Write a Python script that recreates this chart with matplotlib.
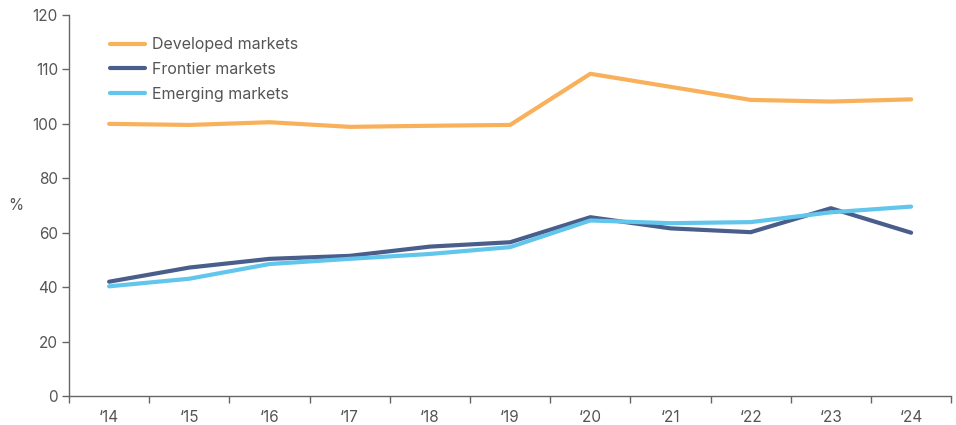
import matplotlib.pyplot as plt
import numpy as np

plt.rcParams['font.family'] = ['Inter', 'DejaVu Sans']

# Data
years = ['\u201814', '\u201815', '\u201816', '\u201817', '\u201818', '\u201819',
         '\u201820', '\u201821', '\u201822', '\u201823', '\u201824']
developed = [100.0, 99.6, 100.3, 98.9, 99.3, 99.6, 109.2, 106.8, 104.4, 104.1, 104.5]
frontier = [42.0, 47.2, 50.4, 51.5, 54.9, 56.5, 65.7, 61.6, 60.2, 69.0, 60.0]
emerging = [40.3, 43.1, 48.5, 50.4, 52.2, 54.7, 64.5, 63.5, 63.9, 67.5, 69.6]
yticks = [0, 20, 40, 60, 80, 100, 110, 120]

text_col = '#555555'
axis_col = '#666666'

# axis above 100 is stretched (100-120 takes the same room as 80-100 ... per label)
def fwd(y):
    y = np.asarray(y, dtype=float)
    return np.where(y <= 100, y, 100 + 2 * (y - 100))

def inv(v):
    v = np.asarray(v, dtype=float)
    return np.where(v <= 100, v, 100 + (v - 100) / 2)

fig = plt.figure(figsize=(9.56, 4.25), dpi=100)
ax = fig.add_axes([0.0722, 0.0682, 0.9228, 0.8965])
ax.set_yscale('function', functions=(fwd, inv))

x = np.arange(len(years))
ax.plot(x, developed, color='#F9B05A', lw=3, label='Developed markets', solid_capstyle='round')
ax.plot(x, frontier, color='#4A5E8C', lw=3, label='Frontier markets', solid_capstyle='round')
ax.plot(x, emerging, color='#62C6EC', lw=3, label='Emerging markets', solid_capstyle='round')

ax.set_xlim(-0.5, len(years) - 0.5)
ax.set_ylim(0, 120)
ax.set_yticks(yticks)
ax.set_yticklabels([str(t) for t in yticks])

# ticks on band edges, labels in the middle
ax.set_xticks(np.arange(-0.5, len(years), 1.0))
ax.set_xticklabels([])
ax.set_xticks(x, minor=True)
ax.set_xticklabels(years, minor=True)
ax.tick_params(axis='x', which='major', length=5, color=axis_col, width=1)
ax.tick_params(axis='x', which='minor', length=0, pad=10, labelsize=11, labelcolor=text_col)
ax.tick_params(axis='y', length=5, color=axis_col, width=1, labelsize=11,
               labelcolor=text_col, pad=3)

for s in ['top', 'right']:
    ax.spines[s].set_visible(False)
for s in ['left', 'bottom']:
    ax.spines[s].set_color(axis_col)
    ax.spines[s].set_linewidth(1)

ax.set_ylabel('%', rotation=0, color=text_col, fontsize=11, ha='center', va='center')
ax.yaxis.set_label_coords(-0.060, 0.50)

leg = ax.legend(loc='upper left', bbox_to_anchor=(0.046, 0.942), frameon=False,
                borderpad=0, borderaxespad=0, fontsize=11.5, handlelength=2.2,
                handletextpad=0.45, labelspacing=0.62)
for t in leg.get_texts():
    t.set_color(text_col)

fig.savefig('out.png', dpi=100)
